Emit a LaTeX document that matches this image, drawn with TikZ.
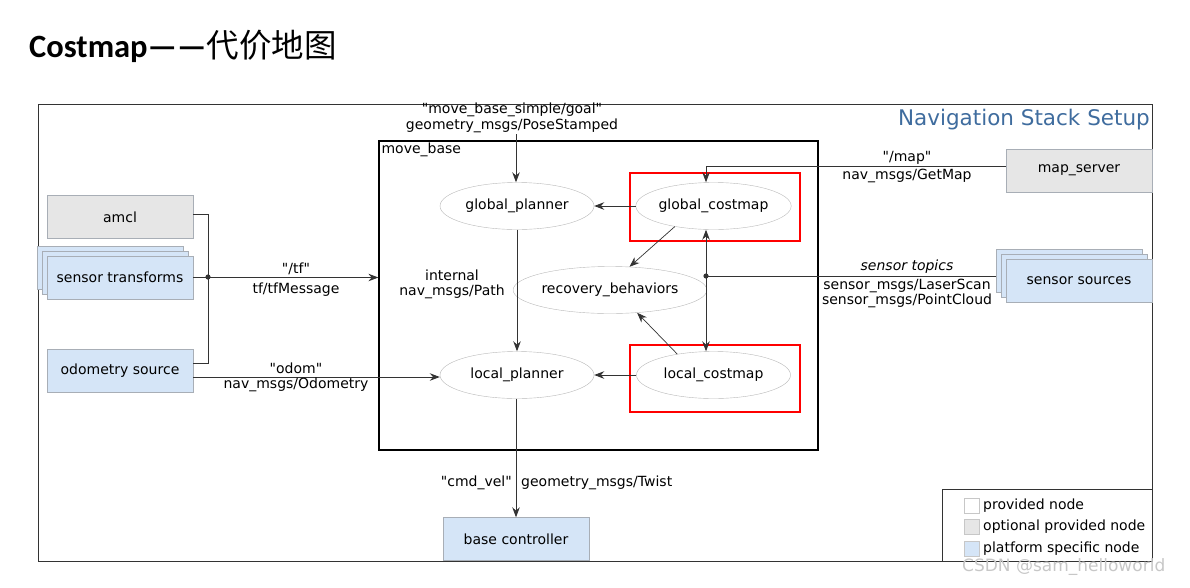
\documentclass[tikz,border=0pt]{standalone}
\usepackage{fontspec}
\setmainfont{DejaVu Sans}
\newfontfamily\titlefont{Carlito}
\newfontfamily\cjk{Noto Sans CJK SC}
\usetikzlibrary{shapes.geometric,arrows.meta,calc}
\definecolor{platblue}{HTML}{D5E5F7}
\definecolor{optgray}{HTML}{E6E6E6}
\definecolor{boxgray}{HTML}{A8AEB6}
\definecolor{ellgray}{HTML}{B8B8B8}
\definecolor{linegray}{HTML}{333333}
\definecolor{navblue}{HTML}{3F6C9E}
\newcommand{\qt}[1]{\textquotedbl#1\textquotedbl}

\begin{document}
\begin{tikzpicture}[x=1pt, y=-1pt,
  lbl/.style={font=\fontsize{14}{15.5}\selectfont, inner sep=1pt, align=center},
  proc/.style={ellipse, draw=ellgray, minimum width=154pt, minimum height=47pt, inner sep=0pt, font=\fontsize{14}{15.5}\selectfont},
  optbox/.style={draw=boxgray, fill=optgray, minimum width=146pt, minimum height=43pt, inner sep=0pt, font=\fontsize{14}{15.5}\selectfont},
  platbox/.style={optbox, fill=platblue},
  conn/.style={draw=linegray, line width=0.9pt},
  arr/.style={conn, -{Stealth[length=10pt,width=7.5pt]}},
  swatch/.style={draw=optgray!70!gray, minimum size=15pt, inner sep=0pt}]
\useasboundingbox (0,0) rectangle (1190,587);

\node[anchor=base west, inner sep=0pt] (title) at (29,57) {\fontsize{32.5}{34}\selectfont\titlefont\bfseries Costmap——\cjk\mdseries 代价地图};

% outer frame and move_base
\draw[linegray, line width=0.9pt] (38,104) rectangle (1152,561);
\node[anchor=base east, inner sep=0pt, text=navblue, font=\fontsize{21.5}{23}\selectfont] (navtitle) at (1150,125) {Navigation Stack Setup};
\node[draw, line width=1.2pt, minimum width=439pt, minimum height=309pt, inner sep=0pt] (mb) at (598.5,295.5) {};
\node[lbl, anchor=north west] (mblbl) at ($(mb.north west)+(2,1)$) {move\_base};

% inside move_base
\node[proc] (gp) at (517,206) {global\_planner};
\node[proc] (gc) at (713.5,206) {global\_costmap};
\node[proc] (rb) at (610,290) {recovery\_behaviors};
\node[proc] (lp) at (517,375) {local\_planner};
\node[proc] (lc) at (713.5,375) {local\_costmap};
\draw[red, line width=2.6pt] (630,173) rectangle (800,241);
\draw[red, line width=2.6pt] (630,345) rectangle (800,412);

% left side nodes
\node[optbox] (amcl) at (120,217) {amcl};
\node[platbox] (st3) at (110,267.5) {};
\node[platbox] (st2) at (115,272.5) {};
\node[platbox] (st) at (120,277.5) {sensor transforms};
\node[platbox] (od) at (120,370.5) {odometry source};

% right side nodes
\node[optbox] (ms) at (1079,170.5) {map\_server};
\node[platbox] (ss3) at (1069,270.5) {};
\node[platbox] (ss2) at (1074,275.5) {};
\node[platbox] (ss) at (1079,280.5) {sensor sources};

\node[platbox] (bc) at (516,539) {base controller};

% goal
\coordinate (goal) at (516,134);
\node[lbl] (goallbl) at (512,118) {\qt{move\_base\_simple/goal}\\geometry\_msgs/PoseStamped};
\draw[arr] (goal) -- (goal |- gp.north);

% tf
\coordinate (tfj) at (208,277);
\draw[conn] (amcl.east |- 0,214) -- (208,214) -- (208,363) -- ($(od.east)+(0,-7.5)$);
\draw[arr] (st.east) -- (st.east -| mb.west);
\fill[linegray] (tfj) circle (2.6);
\node[lbl] (tflbl) at (296,269) {\qt{/tf}};
\node[lbl] (tfmsg) at (296,290) {tf/tfMessage};

% odom
\coordinate (odout) at ($(od.east)+(0,6.5)$);
\draw[arr] (odout) -- (odout -| lp.west);
\node[lbl] (odlbl) at (296,368) {\qt{odom}};
\node[lbl] (odmsg) at (296,385) {nav\_msgs/Odometry};

% planners and costmaps
\draw[arr] (gp.south) -- (lp.north);
\node[lbl] (pathlbl) at (452,284.5) {internal\\nav\_msgs/Path};
\draw[arr] (gc.west) -- (gp.east);
\draw[arr] (lc.west) -- (lp.east);
\draw[arr, line width=0.7pt] (gc.208) -- (rb.50);
\draw[arr, line width=0.7pt] (lc.150) -- (rb.-40);

% map
\coordinate (mapj) at (706,166);
\coordinate (msin) at ($(ms.west)+(0,-4.5)$);
\draw[arr] (msin) -- (mapj) -- (mapj |- gc.north);
\node[lbl] (maplbl) at (907,158) {\qt{/map}};
\node[lbl] (mapmsg) at (907,176) {nav\_msgs/GetMap};

% sensor topics
\coordinate (ssj) at (706,276);
\draw[conn] (ssj) -- (ssj -| ss3.west);
\draw[arr] (ssj) -- (ssj |- gc.south);
\draw[arr] (ssj) -- (ssj |- lc.north);
\fill[linegray] (ssj) circle (2.6);
\node[lbl] (sslbl) at (907,267) {\itshape sensor topics};
\node[lbl] (ssmsg) at (907,293.5) {sensor\_msgs/LaserScan\\sensor\_msgs/PointCloud};

% cmd_vel
\draw[arr] (lp.south -| bc.north) -- (bc.north);
\node[lbl, anchor=east] (cvlbl) at (513,483) {\qt{cmd\_vel}};
\node[lbl, anchor=west] (cvmsg) at (520,483) {geometry\_msgs/Twist};

% legend
\draw[linegray, line width=0.9pt] (942,489) rectangle (1152,561);
\node[swatch, fill=white] (lg1) at (971.5,506) {};
\node[swatch, fill=optgray] (lg2) at (971.5,527) {};
\node[swatch, fill=platblue] (lg3) at (971.5,549) {};
\node[lbl, anchor=west] (lt1) at (982,506) {provided node};
\node[lbl, anchor=west] (lt2) at (982,527) {optional provided node};
\node[lbl, anchor=west] (lt3) at (982,549) {platform specific node};

\node[anchor=west, inner sep=0pt, text=black!22, font=\fontsize{17}{19}\selectfont] (wm) at (962,567) {CSDN @sam\_helloworld};
\end{tikzpicture}
\end{document}
